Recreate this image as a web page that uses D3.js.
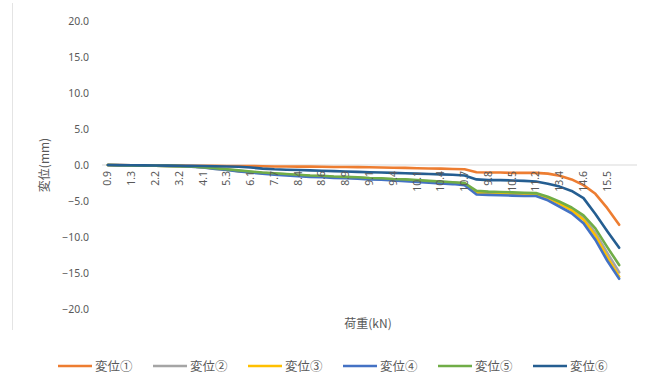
<!DOCTYPE html>
<html>
<head>
<meta charset="utf-8">
<script src="https://cdn.jsdelivr.net/npm/d3@7"></script>
<style>
  body { margin: 0; background: #fff; }
  text { font-family: "Noto Sans CJK JP", "Noto Sans", sans-serif; fill: #595959; }
</style>
</head>
<body>
<div id="chart"></div>
<script>
// Load steps (category axis, kN)
var loads = [0.9, 1.1, 1.3, 1.8, 2.2, 2.7, 3.2, 3.6, 4.1, 4.7, 5.3, 5.7, 6.1, 6.9, 7.7, 8.1,
  8.4, 8.5, 8.6, 8.8, 8.9, 9.0, 9.1, 9.2, 9.4, 9.7, 10.1, 10.2, 10.4, 10.6, 10.7, 9.5,
  9.8, 10.2, 10.5, 10.8, 11.2, 12.3, 13.4, 14.0, 14.6, 15.1, 15.5, 15.9];

// Displacement (mm) for each gauge
var disp1 = [0, -0.02, -0.03, -0.05, -0.05, -0.07, -0.08, -0.1, -0.1, -0.12, -0.13, -0.14,
  -0.15, -0.17, -0.2, -0.2, -0.22, -0.23, -0.25, -0.27, -0.28, -0.3, -0.32, -0.35, -0.38,
  -0.4, -0.45, -0.48, -0.5, -0.55, -0.6, -1.0, -1.05, -1.05, -1.1, -1.1, -1.1, -1.2, -1.5,
  -2.0, -2.8, -4.0, -6.0, -8.3];
var disp2 = [0, -0.03, -0.05, -0.08, -0.1, -0.12, -0.15, -0.2, -0.3, -0.45, -0.6, -0.8,
  -0.95, -1.1, -1.2, -1.3, -1.4, -1.5, -1.55, -1.65, -1.7, -1.75, -1.85, -1.9, -2.0, -2.05,
  -2.15, -2.25, -2.35, -2.45, -2.55, -3.75, -3.85, -3.9, -3.95, -4.0, -4.0, -4.5, -5.3,
  -6.1, -7.3, -9.4, -12.2, -14.9];
var disp3 = [0, -0.03, -0.05, -0.08, -0.1, -0.12, -0.15, -0.2, -0.32, -0.5, -0.65, -0.85,
  -1.0, -1.15, -1.25, -1.35, -1.45, -1.55, -1.6, -1.7, -1.75, -1.8, -1.9, -1.95, -2.05,
  -2.1, -2.2, -2.3, -2.4, -2.5, -2.6, -3.9, -3.95, -4.0, -4.05, -4.1, -4.1, -4.6, -5.4,
  -6.3, -7.6, -9.8, -12.8, -15.5];
var disp4 = [0, -0.03, -0.05, -0.08, -0.1, -0.13, -0.16, -0.22, -0.35, -0.55, -0.7, -0.9,
  -1.05, -1.2, -1.35, -1.45, -1.55, -1.65, -1.7, -1.8, -1.85, -1.9, -2.0, -2.05, -2.15,
  -2.25, -2.35, -2.45, -2.55, -2.65, -2.8, -4.1, -4.15, -4.2, -4.25, -4.3, -4.3, -4.9,
  -5.8, -6.7, -8.1, -10.4, -13.3, -15.8];
var disp5 = [0, -0.03, -0.05, -0.08, -0.1, -0.12, -0.15, -0.2, -0.3, -0.45, -0.6, -0.75,
  -0.9, -1.05, -1.15, -1.25, -1.35, -1.45, -1.5, -1.6, -1.65, -1.7, -1.8, -1.85, -1.95,
  -2.0, -2.1, -2.2, -2.3, -2.4, -2.5, -3.6, -3.7, -3.75, -3.8, -3.85, -3.9, -4.4, -5.1,
  -5.9, -7.0, -8.8, -11.4, -13.9];
var disp6 = [0, -0.02, -0.03, -0.05, -0.06, -0.08, -0.1, -0.12, -0.14, -0.17, -0.2, -0.25,
  -0.35, -0.5, -0.6, -0.65, -0.7, -0.75, -0.8, -0.85, -0.9, -0.95, -1.0, -1.05, -1.1,
  -1.15, -1.2, -1.25, -1.3, -1.35, -1.45, -2.0, -2.1, -2.1, -2.15, -2.2, -2.3, -2.6, -3.0,
  -3.6, -4.6, -6.8, -9.2, -11.5];

var seriesNames = ["変位①", "変位②", "変位③", "変位④", "変位⑤", "変位⑥"];
var seriesValues = [disp1, disp2, disp3, disp4, disp5, disp6];
var seriesColors = ["#ED7D31", "#A5A5A5", "#FFC000", "#4472C4", "#70AD47", "#255E91"];
var yTicks = [20, 15, 10, 5, 0, -5, -10, -15, -20];

var svgWidth = 657;
var svgHeight = 387;

var margin = { top: 21, right: 20, bottom: 78, left: 102 };
var width = svgWidth - margin.left - margin.right;
var height = svgHeight - margin.top - margin.bottom;

var svg = d3.select("#chart")
  .append("svg")
  .attr("width", svgWidth)
  .attr("height", svgHeight);

// faint chart-area border on the left
svg.append("line")
  .attr("x1", 12.5).attr("x2", 12.5)
  .attr("y1", 3).attr("y2", 330)
  .attr("stroke", "#e4e4e4");

var chartGroup = svg.append("g")
  .attr("transform", `translate(${margin.left}, ${margin.top})`);

// one extra empty slot at the end, like the spreadsheet axis
var xScale = d3.scaleBand()
  .domain(d3.range(loads.length + 1))
  .range([0, width]);

var yScale = d3.scaleLinear()
  .domain([-20, 20])
  .range([height, 0]);

var xPos = i => xScale(i) + xScale.bandwidth() / 2;

// y axis labels (no line, no ticks)
var leftAxis = d3.axisLeft(yScale)
  .tickValues(yTicks)
  .tickFormat(d3.format(".1f"))
  .tickSize(0)
  .tickPadding(13);

var yAxis = chartGroup.append("g").call(leftAxis);
yAxis.select(".domain").remove();
yAxis.selectAll("text")
  .attr("font-size", 10.5)
  .style("font-family", "'Noto Sans', sans-serif")
  .attr("fill", "#595959");

// zero line
chartGroup.append("line")
  .attr("x1", 0).attr("x2", width)
  .attr("y1", yScale(0)).attr("y2", yScale(0))
  .attr("stroke", "#d9d9d9")
  .attr("stroke-width", 1);

// lines
var line = d3.line()
  .x((d, i) => xPos(i))
  .y(d => yScale(d));

seriesValues.forEach(function(vals, k) {
  chartGroup.append("path")
    .datum(vals)
    .attr("fill", "none")
    .attr("stroke", seriesColors[k])
    .attr("stroke-width", 2.6)
    .attr("stroke-linejoin", "round")
    .attr("stroke-linecap", "round")
    .attr("d", line);
});

// category labels every other step, rotated
var labelIdx = d3.range(0, loads.length, 2);
chartGroup.selectAll(".xlab")
  .data(labelIdx)
  .enter()
  .append("text")
  .attr("class", "xlab")
  .attr("transform", i => `translate(${xPos(i) + 3.5}, ${yScale(0) + 6}) rotate(-90)`)
  .attr("text-anchor", "end")
  .attr("font-size", 10.5)
  .style("font-family", "'Noto Sans', sans-serif")
  .text(i => loads[i].toFixed(1));

// axis titles
svg.append("text")
  .attr("transform", `translate(49, ${margin.top + yScale(0)}) rotate(-90)`)
  .attr("text-anchor", "middle")
  .attr("font-size", 12)
  .text("変位(mm)");

svg.append("text")
  .attr("x", 368)
  .attr("y", 328)
  .attr("text-anchor", "middle")
  .attr("font-size", 12)
  .text("荷重(kN)");

// legend
var legend = svg.append("g")
  .attr("transform", "translate(58, 366)");

seriesNames.forEach(function(name, k) {
  var item = legend.append("g")
    .attr("transform", `translate(${k * 95}, 0)`);
  item.append("line")
    .attr("x1", 0).attr("x2", 34)
    .attr("y1", 0).attr("y2", 0)
    .attr("stroke", seriesColors[k])
    .attr("stroke-width", 2.6);
  item.append("text")
    .attr("x", 37)
    .attr("y", 4.5)
    .attr("font-size", 12.5)
    .text(name);
});
</script>
</body>
</html>
